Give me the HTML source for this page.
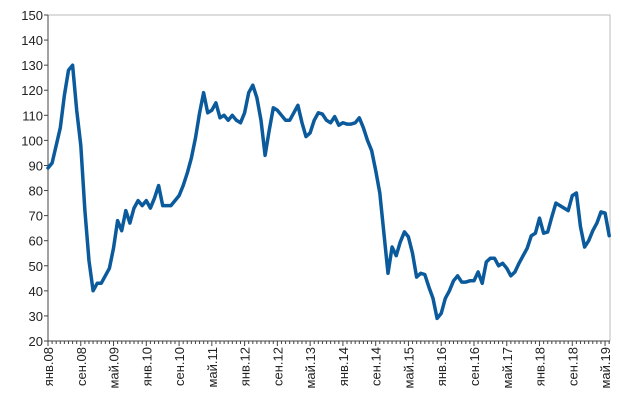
<!DOCTYPE html>
<html><head><meta charset="utf-8"><style>
html,body{margin:0;padding:0;background:#fff}
svg{display:block}
text{font-family:"Liberation Sans",sans-serif;font-size:13px;fill:#222}
</style></head><body>
<svg id="c" width="620" height="404"></svg>
<script>
const yTicks=[20,30,40,50,60,70,80,90,100,110,120,130,140,150];
const xLabels=["янв.08","сен.08","май.09","янв.10","сен.10","май.11","янв.12","сен.12","май.13","янв.14","сен.14","май.15","янв.16","сен.16","май.17","янв.18","сен.18","май.19"];
const values=[89,91,98,105,118,128,130,112,98,72,
52,40,43,43,46,49,57,68,64,72,
67,73,76,74,76,73,77,82,74,74,
74,76,78,82,87,93,101,111,119,111,
112,115,109,110,108,110,108,107,111,119,
122,117,108,94,104,113,112,110,108,108,
111,114,107,
101.5,103,108,111,110.5,108,107,109.5,106,107,106.5,106.5,107,109,105,100,96,88,79,63,47,57.5,54,59.5,63.5,61.5,55,45.5,47,46.5,41.5,37,29,31,37,40,44,46,43.5,43.5,44,44,47.5,43,51.5,53,53,50,51,49,46,47.5,51,54,57,62,63,69,63,63.5,69.5,75,74,73,72,78,79,65.5,57.5,60,64,67,71.5,71,62];
const NS="http://www.w3.org/2000/svg";
const svg=document.getElementById('c');
const L=48,R=610,T=15,B=341,yMin=20,yMax=150;
const monthW=4.096;
function y(v){return B-(v-yMin)/(yMax-yMin)*(B-T);}
function x(i){return L+i*monthW;}
function el(tag,attrs){const e=document.createElementNS(NS,tag);for(const k in attrs)e.setAttribute(k,attrs[k]);svg.appendChild(e);return e;}
let e=el('path',{d:`M${L},${T}H${R}V${B}`,fill:'none',stroke:'#bbb','stroke-width':1});


e=el('line',{x1:L,y1:T,x2:L,y2:B,stroke:'#444','stroke-width':1});


e=el('line',{x1:L,y1:B,x2:R,y2:B,stroke:'#444','stroke-width':1});


yTicks.forEach(v=>{
  const t=el('line',{x1:L-4,y1:y(v),x2:L,y2:y(v),stroke:'#444'});
  
  
  const tx=el('text',{x:L-5,y:y(v)+5,'text-anchor':'end'});
  tx.textContent=v;
  
  
});
for(let i=0;i<values.length;i++){
  const major=i%8===0;
  const t=el('line',{x1:x(i),y1:B,x2:x(i),y2:B+(major?5:3),stroke:'#444'});
  
  
}
xLabels.forEach((lb,k)=>{
  const px=x(k*8)+5;
  const tx=el('text',{x:0,y:0,'text-anchor':'end',transform:`translate(${px},${B+6}) rotate(-90)`});
  tx.textContent=lb;
  
  
});
const d=values.map((v,i)=>(i?'L':'M')+x(i).toFixed(1)+','+y(v).toFixed(1)).join('');
e=el('path',{d:d,fill:'none',stroke:'#0b5a9c','stroke-width':3.5,'stroke-linejoin':'round','stroke-linecap':'round'});


</script>
</body></html>
